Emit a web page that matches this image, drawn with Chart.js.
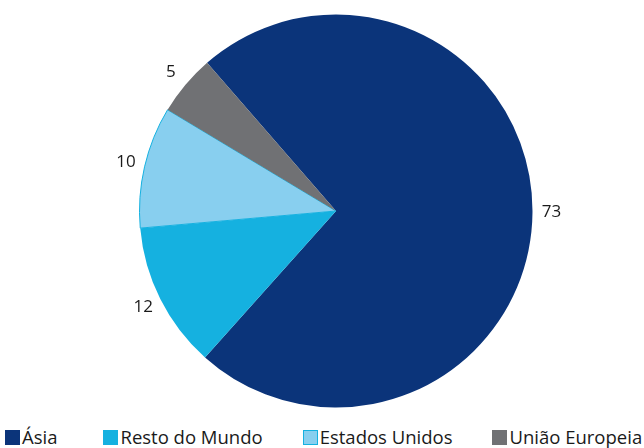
<!DOCTYPE html>
<html>
<head>
<meta charset="utf-8">
<script src="https://cdn.jsdelivr.net/npm/chart.js@4/dist/chart.umd.min.js"></script>
<style>
  html, body { margin: 0; padding: 0; background: #fff; }
  #wrap { position: relative; width: 644px; height: 448px; }
  #chartBox { position: absolute; left: 0; top: 0; width: 644px; height: 420px; }
  #legend { position: absolute; left: 5px; top: 426px; display: flex; gap: 40px; white-space: nowrap;
            font-family: "Open Sans", sans-serif; font-size: 18.5px; color: #1a1a1a; line-height: 22px; }
  #legend span { display: flex; align-items: center; }
  #legend span:first-child { margin-right: 6px; }
  #legend i { display: inline-block; width: 15px; height: 15px; margin-right: 2px; box-sizing: border-box; }
</style>
</head>
<body>
<div id="wrap">
  <div id="chartBox"><canvas id="pieChart"></canvas></div>
  <div id="legend"></div>
</div>
<script>
// === DATA ===
const regions = ["Ásia", "Resto do Mundo", "Estados Unidos", "União Europeia"];
const shares = [73, 12, 10, 5];
const colors = ["#0b347a", "#15b1e0", "#88cfef", "#707174"];
const borders = ["#0b347a", "#15b1e0", "#15b1e0", "#707174"];

// === OUTSIDE LABELS ===
const outsideLabels = {
    id: "outsideLabels",
    afterDatasetsDraw(chart) {
        const c = chart.ctx;
        const meta = chart.getDatasetMeta(0);
        c.save();
        c.font = "17px 'Open Sans', sans-serif";
        c.fillStyle = "#1a1a1a";
        c.textAlign = "center";
        c.textBaseline = "middle";
        meta.data.forEach((arc, i) => {
            const p = arc.getProps(["x", "y", "startAngle", "endAngle", "outerRadius"], true);
            const mid = (p.startAngle + p.endAngle) / 2;
            const r = p.outerRadius + 19;
            c.fillText(String(shares[i]), p.x + Math.cos(mid) * r, p.y + Math.sin(mid) * r);
        });
        c.restore();
    }
};

// === PIE ===
const ctx = document.getElementById("pieChart").getContext("2d");
new Chart(ctx, {
    type: "pie",
    data: {
        labels: regions,
        datasets: [{
            data: shares,
            backgroundColor: colors,
            borderColor: borders,
            borderWidth: [0, 0, 1, 0]
        }]
    },
    options: {
        responsive: true,
        maintainAspectRatio: false,
        animation: false,
        rotation: -41,
        layout: { padding: { left: 100, right: 72, top: 14, bottom: 12 } },
        plugins: { legend: { display: false }, tooltip: { enabled: false } }
    },
    plugins: [outsideLabels]
});

// === LEGEND ===
const legend = document.getElementById("legend");
regions.forEach((name, i) => {
    const item = document.createElement("span");
    const box = document.createElement("i");
    box.style.background = colors[i];
    if (i === 2) box.style.border = "1px solid " + borders[i];
    item.appendChild(box);
    item.appendChild(document.createTextNode(name));
    legend.appendChild(item);
});
</script>
</body>
</html>
